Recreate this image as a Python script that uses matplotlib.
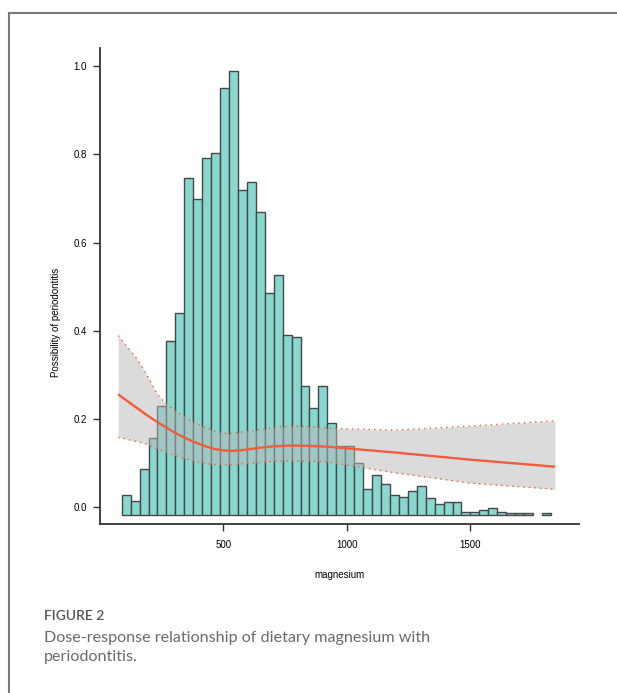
import numpy as np
import matplotlib
matplotlib.use('Agg')
import matplotlib.pyplot as plt
from matplotlib.lines import Line2D

# Histogram of magnesium intake (bar tops on the probability scale)
bin_start = 88
bin_width = 36.25
bar_top = [0.028, 0.015, 0.087, 0.158, 0.230, 0.377, 0.440, 0.746, 0.699, 0.792,
           0.804, 0.951, 0.988, 0.720, 0.738, 0.670, 0.486, 0.527, 0.390, 0.386,
           0.276, 0.226, 0.276, 0.192, 0.138, 0.138, 0.100, 0.041, 0.074, 0.053,
           0.028, 0.023, 0.037, 0.049, 0.020, 0.007, 0.011, 0.011, -0.010, -0.010,
           -0.006, -0.001, -0.010, -0.014, -0.014, -0.014, None, -0.014]
bar_base = -0.018

# Restricted cubic spline fit and 95% CI
curve_x = [74, 110, 150, 190, 230, 265, 300, 335, 365, 400, 430, 465, 500, 535, 570, 635, 700, 770, 850, 932, 1200, 1500, 1845]
curve_y = [0.256, 0.241, 0.225, 0.209, 0.194, 0.182, 0.170, 0.160, 0.152, 0.144, 0.138, 0.132, 0.129, 0.128, 0.129, 0.134, 0.138, 0.140, 0.139, 0.137, 0.124, 0.108, 0.092]
upper_y = [0.389, 0.364, 0.336, 0.300, 0.258, 0.236, 0.220, 0.207, 0.198, 0.188, 0.180, 0.173, 0.168, 0.167, 0.170, 0.175, 0.180, 0.184, 0.183, 0.179, 0.175, 0.184, 0.196]
lower_y = [0.159, 0.154, 0.149, 0.143, 0.133, 0.125, 0.118, 0.112, 0.107, 0.102, 0.099, 0.097, 0.097, 0.097, 0.098, 0.101, 0.104, 0.106, 0.105, 0.102, 0.078, 0.055, 0.041]

x_ticks = [500, 1000, 1500]
y_ticks = [0.0, 0.2, 0.4, 0.6, 0.8, 1.0]

red = '#f25c3d'

fig = plt.figure(figsize=(6.17, 6.93), dpi=100)
ax = fig.add_axes([100 / 617, 1 - 524.3 / 693, 479 / 617, 476.3 / 693])

# bars
for i, top in enumerate(bar_top):
    if top is None:
        continue
    left = bin_start + i * bin_width
    ax.bar(left, top - bar_base, width=bin_width, bottom=bar_base, align='edge',
           color='#88d8d0', edgecolor='#474747', linewidth=1.0, zorder=2)

# confidence band
ax.fill_between(curve_x, lower_y, upper_y, color='#b8b8b8', alpha=0.5, lw=0, zorder=3)
ax.plot(curve_x, upper_y, color=red, ls=(0, (1, 3)), lw=1.0, zorder=4)
ax.plot(curve_x, lower_y, color=red, ls=(0, (1, 3)), lw=1.0, zorder=4)
ax.plot(curve_x, curve_y, color=red, lw=1.7, zorder=5, solid_capstyle='butt')

ax.set_xlim(0, 1942)
ax.set_ylim(-0.0385, 1.0408)
ax.set_xticks(x_ticks)
ax.set_yticks(y_ticks)
ax.set_xticklabels([str(t) for t in x_ticks], fontsize=7, family='Liberation Sans')
ax.set_yticklabels([f'{t:.1f}' for t in y_ticks], fontsize=7, family='Liberation Sans')
ax.tick_params(axis='both', direction='out', length=5, width=1.0, color='#333333')
ax.tick_params(axis='x', pad=6)
ax.tick_params(axis='y', pad=4.5)
for s in ['top', 'right']:
    ax.spines[s].set_visible(False)
for s in ['left', 'bottom']:
    ax.spines[s].set_linewidth(1.3)
    ax.spines[s].set_color('#333333')

fig.text(340 / 617, 1 - 575 / 693, 'magnesium', ha='center', va='center',
         fontsize=7, family='Liberation Sans')
fig.text(56 / 617, 1 - 322 / 693, 'Possibility of periodontitis', ha='center', va='center',
         rotation=90, fontsize=7, family='Liberation Sans')

# outer frame of the figure panel
fig.add_artist(Line2D([9.3 / 617, 1.0], [1 - 13 / 693, 1 - 13 / 693], color='#7a7a7a', lw=1.5,
                      transform=fig.transFigure))
fig.add_artist(Line2D([9.3 / 617, 9.3 / 617], [1 - 13 / 693, 0.0], color='#7a7a7a', lw=1.5,
                      transform=fig.transFigure))

# caption
fig.text(44 / 617, 1 - 620 / 693, 'FIGURE 2', ha='left', va='baseline',
         fontsize=10, color='#555555', family='Lato', fontweight='semibold')
fig.text(44 / 617, 1 - 641.7 / 693, 'Dose-response relationship of dietary magnesium with',
         ha='left', va='baseline', fontsize=11.6, color='#6a6a6a', family='Lato')
fig.text(44 / 617, 1 - 660.7 / 693, 'periodontitis.',
         ha='left', va='baseline', fontsize=11.6, color='#6a6a6a', family='Lato')

fig.savefig('out.png', dpi=100)
